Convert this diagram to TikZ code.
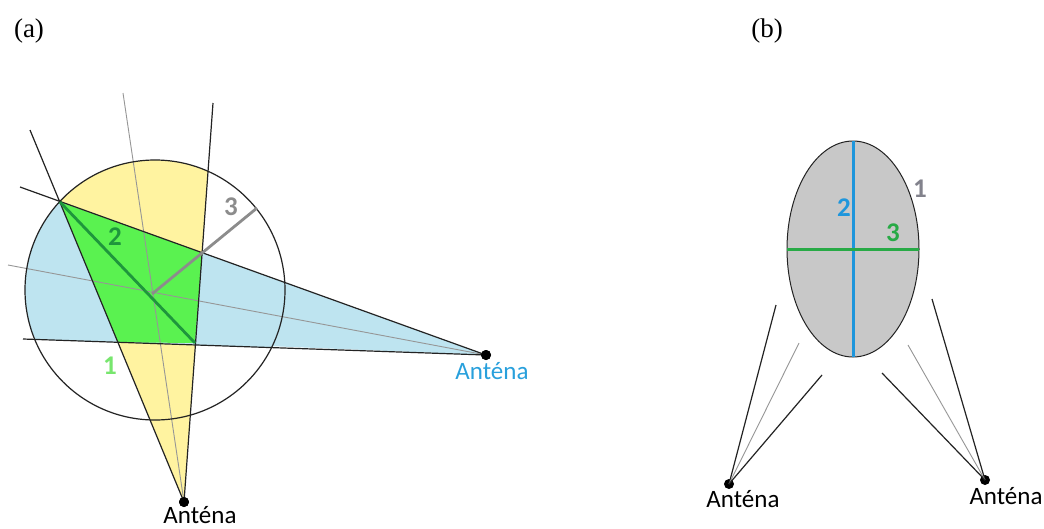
\documentclass[tikz,border=0pt]{standalone}
\usepackage{fontspec}
\setmainfont{Liberation Serif}
\newfontfamily\carl{Carlito}
\definecolor{yfill}{RGB}{255,243,160}
\definecolor{bfill}{RGB}{190,228,240}
\definecolor{gfill}{RGB}{90,242,80}
\definecolor{dkgreen}{RGB}{30,150,60}
\definecolor{thickgray}{RGB}{140,140,140}
\definecolor{ltgreen}{RGB}{120,230,110}
\definecolor{antblue}{RGB}{40,160,220}
\definecolor{ellgray}{RGB}{200,200,200}
\definecolor{axblue}{RGB}{30,150,220}
\definecolor{axgreen}{RGB}{40,170,70}
\definecolor{numgray}{RGB}{130,130,140}
\definecolor{linedark}{RGB}{35,35,35}
\definecolor{linelight}{RGB}{150,150,150}
\begin{document}
\begin{tikzpicture}[x=1pt,y=-1pt,
  darkline/.style={draw=linedark,line width=1.2pt},
  lightline/.style={draw=linelight,line width=0.9pt},
  dot/.style={circle,fill=black,inner sep=0pt,minimum size=10pt},
  lbl/.style={font=\carl\fontsize{25}{28}\selectfont,inner sep=0pt,anchor=base},
  num/.style={font=\carl\bfseries\fontsize{27}{30}\selectfont,inner sep=0pt},
  tag/.style={font=\fontsize{27}{30}\selectfont,inner sep=0pt,anchor=base}]
\useasboundingbox (0,0) rectangle (1044,528);
\fill[white] (0,0) rectangle (1044,528);
% ---------------- (a) ----------------
\node[tag] (ta) at (29,37) {(a)};
\coordinate (O) at (155,290);
\node[dot] (P) at (486,355) {};
\node[dot] (Q) at (184,502) {};
\coordinate (A) at (60,202);
\coordinate (C) at (195,343);
\coordinate (Qa) at (30,130);
\coordinate (Qc) at (213,103);
\coordinate (Qm) at (123,93);
\coordinate (Pa) at (20,187);
\coordinate (Pc) at (23,339);
\coordinate (Pm) at (8,265);
\coordinate (B) at (intersection of P.center--Pa and Q.center--Qc);
\coordinate (D) at (intersection of Q.center--Qa and P.center--Pc);
\coordinate (M) at (152,294);
\coordinate (R) at (257,208);
\begin{scope}
  \clip (Q.center) -- (Qa) -- (Qc) -- cycle;
  \fill[yfill] (O) circle[radius=130pt];
  \fill[yfill] (Q.center) -- (A) -- (C) -- cycle;
\end{scope}
\begin{scope}
  \clip (P.center) -- (Pa) -- (Pc) -- cycle;
  \fill[bfill] (O) circle[radius=130pt];
  \fill[bfill] (P.center) -- (A) -- (C) -- cycle;
\end{scope}
\fill[gfill] (A) -- (B) -- (C) -- (D) -- cycle;
\draw[lightline] (Q.center) -- (Qm);
\draw[lightline] (P.center) -- (Pm);
\draw[darkline] (Q.center) -- (Qa);
\draw[darkline] (Q.center) -- (Qc);
\draw[darkline] (P.center) -- (Pa);
\draw[darkline] (P.center) -- (Pc);
\draw[darkline] (O) circle[radius=130pt];
\draw[dkgreen,line width=2.8pt] (A) -- (C);
\draw[thickgray,line width=2.8pt] (M) -- (R);
\node[dot] at (P.center) {};
\node[dot] at (Q.center) {};
\node[num,text=thickgray] (n3) at (231,207) {3};
\node[num,text=dkgreen] (n2) at (115,237) {2};
\node[num,text=ltgreen] (n1) at (110,366) {1};
\node[lbl] (lq) at (200,523) {Anténa};
\node[lbl,text=antblue] (lp) at (492,379) {Anténa};
% ---------------- (b) ----------------
\node[tag] (tb) at (767,37) {(b)};
\coordinate (E) at (853,249);
\fill[ellgray] (E) ellipse[x radius=66pt,y radius=108pt];
\draw[darkline,line width=1pt] (E) ellipse[x radius=66pt,y radius=108pt];
\coordinate (Et) at (853,141);
\coordinate (Eb) at (853,357);
\coordinate (El) at (787,249);
\coordinate (Er) at (919,249);
\draw[axblue,line width=3pt] (Et) -- (Eb);
\draw[axgreen,line width=3pt] (El) -- (Er);
\node[num,text=axblue] (m2) at (844,208) {2};
\node[num,text=axgreen] (m3) at (893,233) {3};
\node[num,text=numgray] (m1) at (920,189) {1};
\node[dot] (L) at (729,484) {};
\node[dot] (Rr) at (985,480) {};
\coordinate (L1) at (776,305);
\coordinate (L2) at (799,343);
\coordinate (L3) at (822,375);
\coordinate (R1) at (932,299);
\coordinate (R2) at (908,345);
\coordinate (R3) at (882,373);
\draw[darkline] (L.center) -- (L1);
\draw[lightline] (L.center) -- (L2);
\draw[darkline] (L.center) -- (L3);
\draw[darkline] (Rr.center) -- (R1);
\draw[lightline] (Rr.center) -- (R2);
\draw[darkline] (Rr.center) -- (R3);
\node[lbl] (ll) at (743,507) {Anténa};
\node[lbl] (lr) at (1006,504) {Anténa};
\end{tikzpicture}
\end{document}
